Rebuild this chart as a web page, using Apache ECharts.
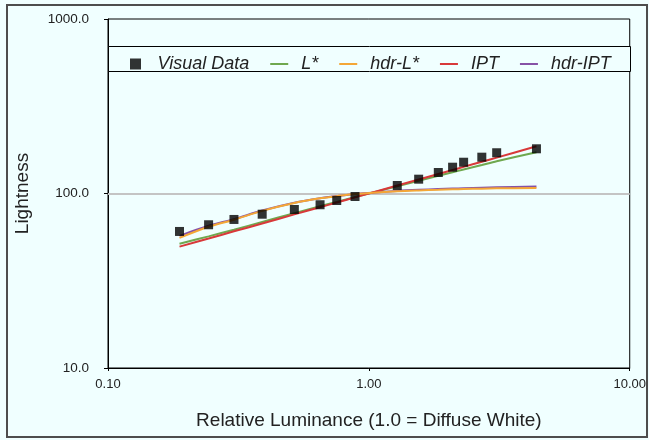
<!DOCTYPE html>
<html>
<head>
<meta charset="utf-8">
<script src="https://cdn.jsdelivr.net/npm/echarts@6/dist/echarts.min.js"></script>
<style>
  html, body { margin: 0; padding: 0; background: #F0FFFF; }
  #chart { width: 649px; height: 440px; }
</style>
</head>
<body>
<div id="chart"></div>
<script>
// relative luminance of each sample
var lum = [0.188, 0.243, 0.304, 0.390, 0.518, 0.650, 0.753, 0.885, 1.285, 1.552, 1.846, 2.094, 2.308, 2.71, 3.09, 4.39];
// lightness values
var visualData = [60.6, 66.2, 71.0, 76.1, 81.0, 86.2, 91.2, 96.1, 111.1, 120.8, 131.9, 141.5, 151.1, 161.5, 171.2, 180.4];
var lStar      = [51.5, 56.8, 62.0, 68.7, 77.1, 84.5, 89.5, 95.4, 110.1, 118.3, 126.3, 132.4, 137.3, 145.7, 153.0, 172.5];
var hdrLStar   = [55.7, 64.5, 70.8, 79.5, 88.2, 93.8, 96.5, 99.3, 103.0, 104.2, 105.0, 105.6, 106.0, 106.6, 107.0, 107.6];
var ipt        = [49.6, 55.2, 60.7, 67.3, 75.9, 83.4, 88.8, 95.0, 111.1, 120.3, 129.4, 136.4, 142.1, 152.0, 160.6, 186.5];
var hdrIpt     = [57.2, 65.3, 71.3, 79.9, 88.5, 94.0, 96.8, 99.5, 103.5, 105.0, 106.0, 106.7, 107.2, 108.0, 108.6, 109.5];

var xTicks = [0.1, 1, 10];
var yTicks = [10, 100, 1000];

var colors = ['#000000', '#6FA84F', '#F4A737', '#D8393A', '#8652A6'];

function pairs(ys) {
    var out = [];
    for (var i = 0; i < lum.length; i++) out.push([lum[i], ys[i]]);
    return out;
}

function lineSeries(name, ys, color, z) {
    return {
        name: name,
        type: 'line',
        data: pairs(ys),
        symbol: 'none',
        smooth: 0.3,
        z: z,
        lineStyle: { color: color, width: 2 },
        itemStyle: { color: color }
    };
}

var myChart = echarts.init(document.getElementById('chart'));
var font = '"Liberation Sans", Arial, Helvetica, sans-serif';
var lineIcon = 'path://M0,0h18v2h-18z';

myChart.setOption({
    backgroundColor: '#F0FFFF',
    animation: false,
    textStyle: { fontFamily: font },
    graphic: [
        // outer frame
        { type: 'rect', shape: { x: 7, y: 5, width: 640, height: 432 },
          style: { fill: 'none', stroke: '#4d4d4d', lineWidth: 2 }, z: 100 },
        // legend box
        { type: 'rect', shape: { x: 108.5, y: 46.5, width: 522, height: 25 },
          style: { fill: '#F0FFFF', stroke: '#000', lineWidth: 1 }, z: 5 }
    ],
    grid: {
        left: 108, right: 19, top: 19, bottom: 72,
        show: true, borderColor: '#000', borderWidth: 1, backgroundColor: 'transparent'
    },
    legend: {
        left: 125, top: 50,
        itemWidth: 18, itemHeight: 11, itemGap: 21,
        z: 10,
        textStyle: { fontStyle: 'italic', fontSize: 18, color: '#222', fontFamily: font,
            padding: [0, 0, 0, 8] },
        data: [
            { name: 'Visual Data', icon: 'path://M0,0h10v10h-10z' },
            { name: 'L*', icon: lineIcon },
            { name: 'hdr-L*', icon: lineIcon },
            { name: 'IPT', icon: lineIcon },
            { name: 'hdr-IPT', icon: lineIcon }
        ]
    },
    xAxis: {
        type: 'log', logBase: 10, min: xTicks[0], max: xTicks[2],
        name: 'Relative Luminance (1.0 = Diffuse White)',
        nameLocation: 'middle', nameGap: 43,
        nameTextStyle: { fontSize: 19, color: '#222' },
        axisLine: { lineStyle: { color: '#000' } },
        axisTick: { length: 3, lineStyle: { color: '#000' } },
        axisLabel: { fontSize: 13, color: '#222', margin: 10,
            formatter: function (v) { return v.toFixed(2); } },
        splitLine: { show: false },
        minorTick: { show: false }
    },
    yAxis: {
        type: 'log', logBase: 10, min: yTicks[0], max: yTicks[2],
        name: 'Lightness',
        nameLocation: 'middle', nameGap: 76, nameRotate: 90,
        nameTextStyle: { fontSize: 19, color: '#222' },
        axisLine: { lineStyle: { color: '#000' } },
        axisTick: { length: 4, lineStyle: { color: '#000' } },
        axisLabel: { fontSize: 13.5, color: '#222', margin: 19,
            formatter: function (v) { return v.toFixed(1); } },
        splitLine: { show: false },
        minorTick: { show: false }
    },
    series: [
        {
            name: 'Visual Data',
            type: 'scatter',
            data: pairs(visualData),
            symbol: 'rect',
            symbolSize: 9,
            z: 5,
            itemStyle: { color: colors[0] },
            markLine: {
                silent: true,
                symbol: 'none',
                label: { show: false },
                z: 1,
                lineStyle: { color: '#C4C4C4', width: 2, type: 'solid' },
                data: [{ yAxis: 100 }]
            }
        },
        lineSeries('L*', lStar, colors[1], 2),
        lineSeries('hdr-L*', hdrLStar, colors[2], 4),
        lineSeries('IPT', ipt, colors[3], 3),
        lineSeries('hdr-IPT', hdrIpt, colors[4], 2)
    ]
});
</script>
</body>
</html>
